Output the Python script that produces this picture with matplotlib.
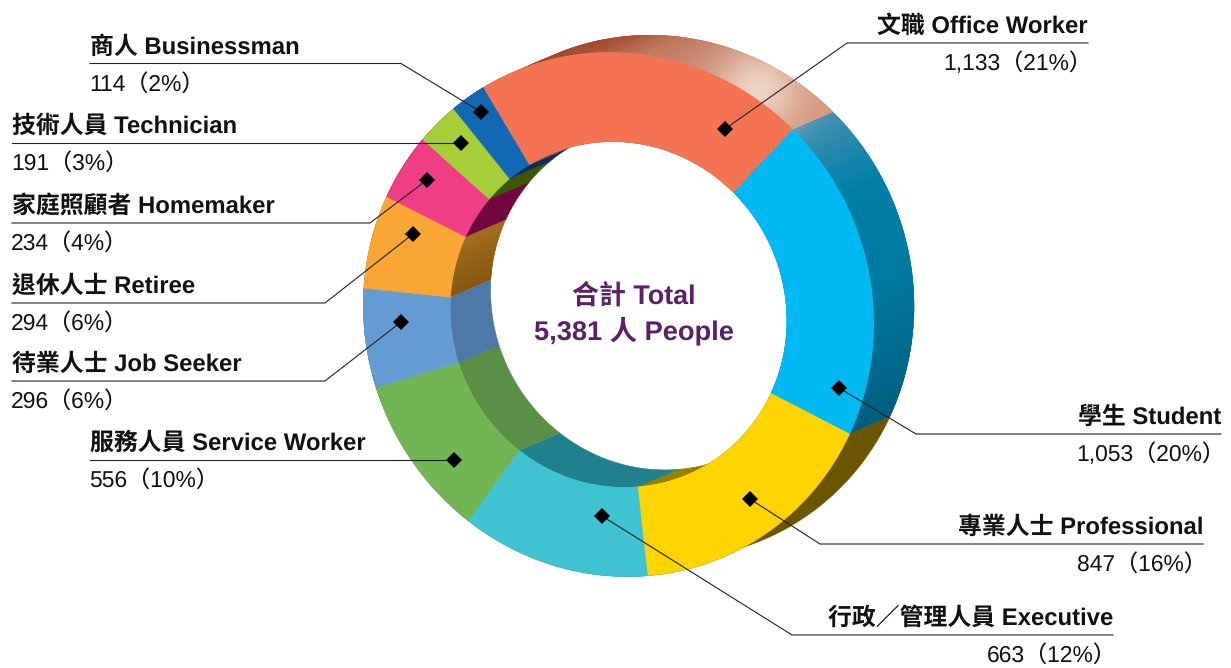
import numpy as np
import matplotlib
matplotlib.use("Agg")
import matplotlib.pyplot as plt
from matplotlib.colors import LinearSegmentedColormap, to_rgb
from matplotlib.patches import Polygon

# 職業分佈, clockwise from the student slice
names = ["學生 Student", "專業人士 Professional", "行政／管理人員 Executive",
         "服務人員 Service Worker", "待業人士 Job Seeker", "退休人士 Retiree",
         "家庭照顧者 Homemaker", "技術人員 Technician", "商人 Businessman",
         "文職 Office Worker"]
counts = [1053, 847, 663, 556, 296, 294, 234, 191, 114, 1133]
pct = [20, 16, 12, 10, 6, 6, 4, 3, 2, 21]
total_zh = "合計 Total"
total_en = "5,381 人 People"

face_col = ["#00B9F2", "#FFD400", "#3FC3D1", "#72B654", "#659BD3",
            "#FAA634", "#EF3E85", "#A6CE39", "#1268B3", "#F47353"]
inner_col = ["#007FA8", "#9A8000", "#20808C", "#5A9045", "#4E78A6",
             "#96651C", "#72063E", "#3D5600", "#0A2F5F", "#A85238"]
outer_col = ["#007FA8", "#6B5600", "#20808C", "#5A9045", "#4E78A6",
             "#96651C", "#72063E", "#3D5600", "#0A2F5F", "#A85238"]

# ring geometry, in pixels of the 1231x668 picture
W, H = 1231, 668
FRONT = (618.5, 314.5)
BACK = (659.0, 297.0)
A, B, SHEAR = 255.0, 262.0, -9.0
HOLE = 0.66
START = 45.0
# the perspective of the drawing moves the slice edges a little
nudge = [0, 1.7, 3.4, 1.7, 0.2, 2.3, 3.6, 3.1, 0.2, 0.9, 0]

# line end on the ring, underline start x, underline end x, underline y, text side
leaders = [
    ((839, 388), 916, 1221, 434, "right"),
    ((750, 499), 820, 1203, 544, "right"),
    ((602, 516), 792, 1113, 635, "right"),
    ((454, 460), 454, 90, 460, "left"),
    ((401, 322), 325, 12, 381, "left"),
    ((413, 234), 325, 12, 303, "left"),
    ((427, 180), 370, 12, 223, "left"),
    ((461, 143), 461, 12, 143, "left"),
    ((481, 112), 401, 90, 63.5, "left"),
    ((725, 129), 847, 1088, 43, "right"),
]


def ring_xy(theta, scale, centre):
    t = np.radians(theta)
    x = centre[0] + scale * (A * np.sin(t) + SHEAR * np.cos(t))
    y = centre[1] - scale * B * np.cos(t)
    return np.column_stack([x, y])


def band(t1, t2, scale1, centre1, scale2, centre2):
    # closed shape between two arcs over the same angles
    t = np.linspace(t1, t2, max(int(abs(t2 - t1)) * 2, 4))
    return np.vstack([ring_xy(t, scale1, centre1), ring_xy(t[::-1], scale2, centre2)])


def gradient_wall(t1, t2, scale, cmap, z):
    # each strip runs under the next one, so no seams show
    steps = np.linspace(t1, t2, 90)
    for a, b in zip(steps[:-1], steps[1:]):
        c = cmap((a - t1) / (t2 - t1))
        end = min(b + 2 * (b - a), t2)
        ax.add_patch(Polygon(band(a, end, scale, FRONT, scale, BACK), fc=c, ec="none", zorder=z))


edges = START + np.cumsum([0] + counts) / sum(counts) * 360 + np.array(nudge)

plt.rcParams["font.family"] = ["Liberation Sans", "Noto Sans CJK TC"]
plt.rcParams["text.hinting"] = "no_hinting"
fig = plt.figure(figsize=(W / 100, H / 100), dpi=100)
ax = fig.add_axes([0, 0, 1, 1])

orange_wall = LinearSegmentedColormap.from_list(
    "orange_wall", ["#8E4029", "#9E4B31", "#A85238", "#C07A60", "#C98A72", "#D4967C", "#D4967C"])
blue_wall = LinearSegmentedColormap.from_list(
    "blue_wall", ["#3F8FB0", "#007FA8", "#007BA0", "#006C90", "#005C7C"])
retiree_wall = LinearSegmentedColormap.from_list("retiree_wall", ["#85590F", "#A56E20"])

for i in range(len(counts)):
    t1, t2 = edges[i], edges[i + 1]
    if i == 0:
        gradient_wall(t1, t2, 1.0, blue_wall, 1)
    elif i == 9:
        gradient_wall(t1 - 360, t2 - 360, 1.0, orange_wall, 1)
    else:
        ax.add_patch(Polygon(band(t1, t2, 1.0, FRONT, 1.0, BACK), fc=outer_col[i], ec=outer_col[i], lw=0.4, zorder=1))
    if i == 5:
        gradient_wall(t1, t2, HOLE, retiree_wall, 2)
    else:
        ax.add_patch(Polygon(band(t1, t2, HOLE, FRONT, HOLE, BACK), fc=inner_col[i], ec=inner_col[i], lw=0.4, zorder=2))
    ax.add_patch(Polygon(band(t1, t2, 1.0, FRONT, HOLE, FRONT), fc=face_col[i], ec=face_col[i], lw=0.4, zorder=3))

# soft light on the top right of the wall
yy, xx = np.mgrid[0:H, 0:W]
glow = np.zeros((H, W, 4))
glow[..., :3] = to_rgb("#F2E0D2")
glow[..., 3] = 0.85 * np.exp(-((xx - 757) ** 2 + (yy - 90) ** 2) / (2 * 30.0 ** 2))
im = ax.imshow(glow, extent=(0, W, H, 0), zorder=1.5, interpolation="bilinear", aspect="auto")
clip = Polygon(band(edges[9] - 360, edges[1], 1.0, FRONT, 1.0, BACK), fc="none", ec="none", transform=ax.transData)
ax.add_patch(clip)
im.set_clip_path(clip)

for i, (end, x0, x1, y, side) in enumerate(leaders):
    ax.plot([end[0], x0, x1], [end[1], y, y], color="#222222", lw=0.8, zorder=4, solid_joinstyle="miter")
    ax.plot(end[0], end[1], marker="D", ms=8, color="black", mew=0, zorder=5)
    ax.text(x1, y - 10, names[i], ha=side, va="baseline", fontsize=17.2, fontweight="bold", color="#111111", zorder=5)
    nx = x1 + 4 if side == "right" else x1 - 1
    ax.text(nx, y + 27, f"{counts[i]:,}（{pct[i]}%）", ha=side, va="baseline", fontsize=16.5, color="#111111", zorder=5)

ax.text(634, 304, total_zh, ha="center", va="baseline", fontsize=19.4, fontweight="bold", color="#5A2068", zorder=5)
ax.text(634, 339, total_en, ha="center", va="baseline", fontsize=19.6, fontweight="bold", color="#5A2068", zorder=5)

ax.set_xlim(0, W)
ax.set_ylim(H, 0)
ax.axis("off")
fig.savefig("out.png", dpi=100, facecolor="white")
